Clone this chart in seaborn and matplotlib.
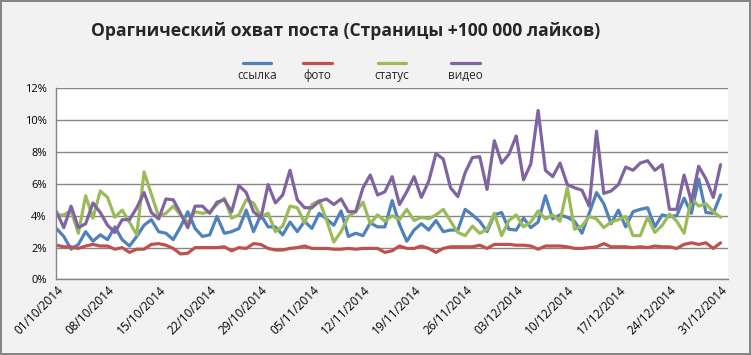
import numpy as np
import pandas as pd
import matplotlib
matplotlib.use("Agg")
import matplotlib.pyplot as plt
import matplotlib.dates as mdates
import matplotlib.transforms as mtransforms
from matplotlib.lines import Line2D
from matplotlib.ticker import PercentFormatter
import seaborn as sns

# --- данные (охват, %) ---
dates = pd.date_range("2014-10-01", "2014-12-31", freq="D")

ssylka = [3.2, 2.7, 1.9, 2.2, 3.0, 2.4, 2.8, 2.5, 3.3, 2.5, 2.1, 2.7, 3.4, 3.75, 3.0, 2.9,
          2.5, 3.3, 4.25, 3.2, 2.7, 2.8, 3.95, 2.9, 3.0, 3.2, 4.35, 3.0, 4.05, 3.3, 3.3, 2.8,
          3.6, 3.0, 3.65, 3.2, 4.15, 3.8, 3.4, 4.3, 2.7, 2.9, 2.75, 3.55, 3.3, 3.3, 4.95, 3.45,
          2.4, 3.1, 3.5, 3.1, 3.7, 3.0, 3.1, 3.1, 4.4, 4.05, 3.65, 3.0, 4.05, 4.2, 3.15, 3.1,
          3.85, 3.25, 3.6, 5.25, 3.8, 4.05, 3.9, 3.65, 2.9, 4.15, 5.45, 4.75, 3.5, 4.35, 3.3,
          4.25, 4.4, 4.5, 3.3, 4.05, 3.95, 4.0, 5.1, 4.15, 6.3, 4.2, 4.15, 5.3]

foto = [2.15, 2.05, 2.05, 1.95, 2.1, 2.2, 2.1, 2.1, 1.9, 2.0, 1.7, 1.9, 1.9, 2.2, 2.25, 2.15,
        1.95, 1.6, 1.65, 2.0, 2.0, 2.0, 2.0, 2.05, 1.8, 2.0, 1.95, 2.25, 2.2, 1.95, 1.85, 1.85,
        1.95, 2.0, 2.1, 1.95, 1.95, 1.95, 1.9, 1.9, 1.95, 1.9, 1.95, 1.95, 1.95, 1.7, 1.8, 2.1,
        1.95, 1.95, 2.1, 1.95, 1.7, 1.95, 2.05, 2.05, 2.05, 2.05, 2.15, 1.95, 2.2, 2.2, 2.2,
        2.15, 2.15, 2.1, 1.9, 2.1, 2.1, 2.1, 2.05, 1.95, 1.95, 2.0, 2.05, 2.25, 2.05, 2.05,
        2.05, 2.0, 2.05, 2.0, 2.1, 2.05, 2.05, 1.95, 2.2, 2.3, 2.2, 2.3, 1.95, 2.3]

status = [4.05, 4.05, 4.3, 2.9, 5.25, 3.85, 5.55, 5.15, 3.9, 4.35, 3.6, 2.8, 6.75, 5.35, 3.95,
          4.15, 4.6, 4.05, 3.55, 4.25, 4.15, 4.25, 4.7, 5.1, 3.85, 4.05, 5.0, 4.8, 3.95, 4.15,
          3.0, 3.35, 4.6, 4.5, 3.55, 4.7, 4.95, 3.75, 2.35, 3.0, 3.95, 4.25, 4.85, 3.5, 4.05,
          3.65, 4.0, 3.75, 4.4, 3.7, 3.9, 3.8, 4.05, 4.4, 3.65, 2.95, 2.75, 3.35, 2.9, 3.15,
          4.15, 2.75, 3.7, 4.05, 3.3, 3.6, 4.3, 3.8, 4.05, 3.65, 5.75, 3.15, 3.35, 3.95, 3.8,
          3.25, 3.6, 3.75, 3.95, 2.75, 2.75, 3.9, 2.95, 3.4, 4.1, 3.65, 2.9, 5.1, 4.6, 4.75,
          4.25, 3.9]

video = [4.25, 3.25, 4.6, 3.25, 3.5, 4.8, 4.2, 3.4, 2.95, 3.75, 3.75, 4.5, 5.45, 4.2, 3.8,
         5.05, 5.0, 4.15, 3.25, 4.6, 4.6, 4.15, 4.85, 5.0, 4.25, 5.9, 5.45, 4.25, 3.85, 5.95,
         4.8, 5.3, 6.85, 5.0, 4.5, 4.5, 4.9, 5.05, 4.7, 5.05, 4.25, 4.25, 5.75, 6.55, 5.3, 5.5,
         6.45, 4.7, 5.5, 6.45, 5.15, 6.15, 7.9, 7.55, 5.75, 5.2, 6.7, 7.65, 7.7, 5.65, 8.7,
         7.3, 7.85, 9.0, 6.25, 7.25, 10.6, 6.85, 6.45, 7.3, 5.95, 5.75, 5.6, 4.6, 9.3, 5.4,
         5.55, 5.95, 7.05, 6.85, 7.3, 7.45, 6.85, 7.2, 4.4, 4.4, 6.55, 4.9, 7.1, 6.3, 5.15, 7.2]

series_names = ["ссылка", "фото", "статус", "видео"]
colors = ["#4F81BD", "#C0504D", "#9BBB59", "#8064A2"]
y_ticks = [0, 2, 4, 6, 8, 10, 12]

sns.set_style("white")
plt.rcParams["font.family"] = ["Open Sans", "DejaVu Sans"]

df = pd.DataFrame({"date": dates, "ссылка": ssylka, "фото": foto,
                   "статус": status, "видео": video})
long_df = df.melt(id_vars="date", var_name="тип", value_name="охват")

fig = plt.figure(figsize=(7.51, 3.55), dpi=100, facecolor="#F2F2F2")
fig.patch.set_edgecolor("#868686")
fig.patch.set_linewidth(1.5)
ax = fig.add_axes([0.0752, 0.2127, 0.894, 0.539])
ax.set_facecolor("white")

sns.lineplot(data=long_df, x="date", y="охват", hue="тип", hue_order=series_names,
             palette=colors, linewidth=2.3, legend=False, ax=ax)

ax.set_ylim(0, 12)
ax.set_yticks(y_ticks)
ax.yaxis.set_major_formatter(PercentFormatter(decimals=0))
ax.set_xlim(dates[0], dates[0] + pd.Timedelta(days=92))
ax.set_xticks(pd.date_range(dates[0], dates[-1], freq="7D"))
ax.xaxis.set_major_formatter(mdates.DateFormatter("%d/%m/%Y"))
ax.set_xlabel("")
ax.set_ylabel("")

ax.grid(axis="y", color="#868686", linewidth=1.0)
ax.set_axisbelow(True)
for side in ["top", "right"]:
    ax.spines[side].set_visible(False)
for side in ["left", "bottom"]:
    ax.spines[side].set_color("#868686")
    ax.spines[side].set_linewidth(1.0)

ax.tick_params(axis="both", direction="out", length=4, width=1, color="#868686",
               labelsize=8, labelcolor="black")
ax.tick_params(axis="x", labelsize=8.5, pad=2)
ax.tick_params(axis="y", pad=3)
offset = mtransforms.ScaledTranslation(5 / 100, 0, fig.dpi_scale_trans)
for lbl in ax.get_xticklabels():
    lbl.set_rotation(45)
    lbl.set_ha("right")
    lbl.set_va("center")
    lbl.set_rotation_mode("anchor")
    lbl.set_transform(lbl.get_transform() + offset)

fig.text(0.46, 0.912, "Орагнический охват поста (Страницы +100 000 лайков)",
         ha="center", va="center", fontsize=12.6, fontweight="bold")

# легенда: линия над подписью
legend_x = [0.342, 0.423, 0.522, 0.620]
for name, col, lx in zip(series_names, colors, legend_x):
    fig.add_artist(Line2D([lx - 0.019, lx + 0.019], [0.822, 0.822], color=col,
                          linewidth=2.3, transform=fig.transFigure))
    fig.text(lx, 0.788, name, ha="center", va="center", fontsize=8.5)

fig.savefig("out.png", dpi=100, facecolor=fig.get_facecolor(),
            edgecolor=fig.get_edgecolor())
